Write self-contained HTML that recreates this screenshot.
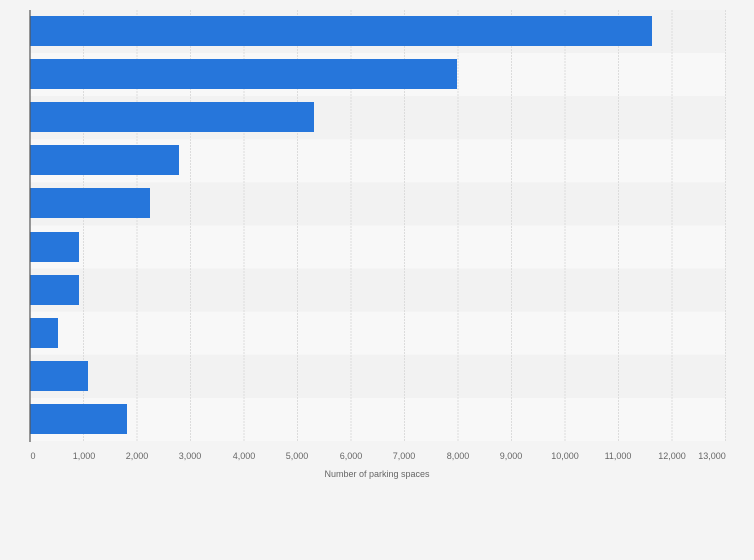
<!DOCTYPE html>
<html><head><style>
body{margin:0;background:#f4f4f4;}
svg{display:block;font-family:"Liberation Sans",sans-serif;}
</style></head><body>
<svg width="754" height="560" viewBox="0 0 754 560">
<rect width="754" height="560" fill="#f4f4f4"/>
<g>
<rect x="30" y="10" width="695" height="43.1" fill="#f2f2f2"/>
<rect x="30" y="53.1" width="695" height="43.1" fill="#f8f8f8"/>
<rect x="30" y="96.2" width="695" height="43.1" fill="#f2f2f2"/>
<rect x="30" y="139.3" width="695" height="43.1" fill="#f8f8f8"/>
<rect x="30" y="182.4" width="695" height="43.1" fill="#f2f2f2"/>
<rect x="30" y="225.5" width="695" height="43.1" fill="#f8f8f8"/>
<rect x="30" y="268.6" width="695" height="43.1" fill="#f2f2f2"/>
<rect x="30" y="311.7" width="695" height="43.1" fill="#f8f8f8"/>
<rect x="30" y="354.8" width="695" height="43.1" fill="#f2f2f2"/>
<rect x="30" y="397.9" width="695" height="43.1" fill="#f8f8f8"/>
</g>
<g stroke="#dcdcdc" stroke-dasharray="2,1" stroke-width="1">
<line x1="83.5" y1="10" x2="83.5" y2="441"/><line x1="137" y1="10" x2="137" y2="441"/>
<line x1="190.5" y1="10" x2="190.5" y2="441"/><line x1="244" y1="10" x2="244" y2="441"/>
<line x1="297.5" y1="10" x2="297.5" y2="441"/><line x1="351" y1="10" x2="351" y2="441"/>
<line x1="404.5" y1="10" x2="404.5" y2="441"/><line x1="458" y1="10" x2="458" y2="441"/>
<line x1="511.5" y1="10" x2="511.5" y2="441"/><line x1="565" y1="10" x2="565" y2="441"/>
<line x1="618.5" y1="10" x2="618.5" y2="441"/><line x1="672" y1="10" x2="672" y2="441"/>
<line x1="725.5" y1="10" x2="725.5" y2="441"/>
</g>
<g fill="#2676db">
<rect x="30" y="16" width="622" height="30"/>
<rect x="30" y="59" width="427" height="30"/>
<rect x="30" y="102" width="284" height="30"/>
<rect x="30" y="145" width="149" height="30"/>
<rect x="30" y="188" width="120" height="30"/>
<rect x="30" y="232" width="49" height="30"/>
<rect x="30" y="275" width="49" height="30"/>
<rect x="30" y="318" width="28" height="30"/>
<rect x="30" y="361" width="58" height="30"/>
<rect x="30" y="404" width="97" height="30"/>
</g>
<line x1="30" y1="10" x2="30" y2="442" stroke="#555" stroke-width="1.2"/>
<g font-size="9" fill="#666" text-anchor="middle">
<text x="33" y="459">0</text><text x="84" y="459">1,000</text><text x="137" y="459">2,000</text>
<text x="190" y="459">3,000</text><text x="244" y="459">4,000</text><text x="297" y="459">5,000</text>
<text x="351" y="459">6,000</text><text x="404" y="459">7,000</text><text x="458" y="459">8,000</text>
<text x="511" y="459">9,000</text><text x="565" y="459">10,000</text><text x="618" y="459">11,000</text>
<text x="712" y="459">13,000</text><text x="672" y="459">12,000</text>
<text x="377" y="477">Number of parking spaces</text>
</g>
</svg>
</body></html>
